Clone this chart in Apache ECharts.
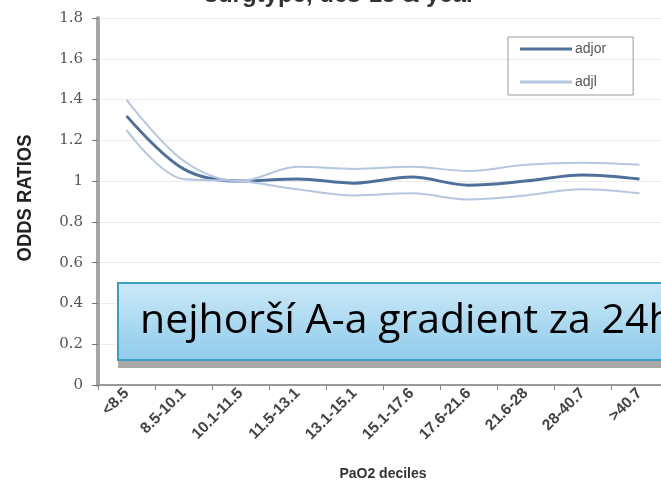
<!DOCTYPE html>
<html><head><meta charset="utf-8">
<script src="https://cdn.jsdelivr.net/npm/echarts@6/dist/echarts.min.js"></script>
<style>html,body{margin:0;padding:0;background:#fff;overflow:hidden}#c{width:672px;height:486px}</style>
</head><body><div id="c"></div>
<script>
const categories = ["<8.5","8.5-10.1","10.1-11.5","11.5-13.1","13.1-15.1","15.1-17.6","17.6-21.6","21.6-28","28-40.7",">40.7"];
const adjor = [1.32, 1.06, 1.0, 1.01, 0.99, 1.02, 0.98, 1.0, 1.03, 1.01];
const adjl  = [1.25, 1.01, 1.0, 0.96, 0.93, 0.94, 0.91, 0.93, 0.96, 0.94];
const adju  = [1.40, 1.10, 1.0, 1.07, 1.06, 1.07, 1.05, 1.08, 1.09, 1.08];
const yTicks = [0, 0.2, 0.4, 0.6, 0.8, 1, 1.2, 1.4, 1.6, 1.8];

const chart = echarts.init(document.getElementById('c'));
const mainColor = '#50709c';
const ciColor = '#b4c6e0';
chart.setOption({
  animation: false,
  grid: {left: 98, top: 18, bottom: 100, right: 4, containLabel: false},
  legend: {
    orient: 'vertical', left: 508, top: 37,
    data: [
      {name: 'adjor', icon: 'rect', itemStyle: {color: mainColor}},
      {name: 'adjl', icon: 'rect', itemStyle: {color: ciColor}}
    ],
    borderColor: '#9a9a9a', borderWidth: 1, padding: [5, 27, 6, 12],
    itemWidth: 52, itemHeight: 3, itemGap: 19,
    textStyle: {fontSize: 14, color: '#555', fontFamily: 'Liberation Sans', padding: [0, 0, 0, -2]}
  },
  xAxis: {
    type: 'category', data: categories, boundaryGap: true,
    name: 'PaO2 deciles', nameLocation: 'middle', nameGap: 82,
    nameTextStyle: {fontSize: 14, fontWeight: 'bold', color: '#333', fontFamily: 'Liberation Sans'},
    axisLine: {lineStyle: {color: '#9a9a9a', width: 2}},
    axisTick: {show: true, length: 5, alignWithLabel: false, interval: 0, lineStyle: {color: '#888'}},
    axisLabel: {rotate: 45, interval: 0, fontSize: 15.5, fontWeight: 'bold', color: '#444', margin: 6, fontFamily: 'Liberation Sans'},
    splitLine: {show: false}
  },
  yAxis: {
    type: 'value', min: 0, max: 1.8, interval: 0.2,
    axisLine: {show: true, lineStyle: {color: '#a6a6a6', width: 4}},
    axisTick: {show: true, length: 6, lineStyle: {color: '#777'}},
    axisLabel: {fontSize: 15, color: '#555', margin: 15, fontFamily: 'DejaVu Serif',
      formatter: v => { const t = yTicks.find(x => Math.abs(x - v) < 1e-6); return String(t !== undefined ? t : v); }},
    splitLine: {show: true, lineStyle: {color: '#ececec', width: 1}}
  },
  series: [
    {name: 'adjor', type: 'line', data: adjor, smooth: 0.35, symbol: 'none', z: 3,
      lineStyle: {color: mainColor, width: 3}, itemStyle: {color: mainColor}},
    {name: 'adjl', type: 'line', data: adjl, smooth: 0.35, symbol: 'none',
      lineStyle: {color: ciColor, width: 2}, itemStyle: {color: ciColor}},
    {name: 'adju', type: 'line', data: adju, smooth: 0.35, symbol: 'none',
      lineStyle: {color: ciColor, width: 2}, itemStyle: {color: ciColor}}
  ],
  graphic: [
    {type: 'text', x: 340, y: -17, style: {text: 'surgtype, ucs-15 & year', fontSize: 24, fontWeight: 'bold', fill: '#333', fontFamily: 'Liberation Sans', align: 'center'}},
    {type: 'text', x: 25, y: 198, rotation: Math.PI / 2, scaleX: 0.88,
      style: {text: 'ODDS RATIOS', fontSize: 21, fontWeight: 'bold', fill: '#222', fontFamily: 'Liberation Sans', align: 'center', verticalAlign: 'middle'}},
    {type: 'rect', shape: {x: 118, y: 290, width: 570, height: 78}, style: {fill: '#a8a8a8'}, z: 10},
    {type: 'rect', shape: {x: 118, y: 283, width: 570, height: 77},
      style: {fill: new echarts.graphic.LinearGradient(0, 0, 0, 1, [{offset: 0, color: '#cbe9f8'}, {offset: 1, color: '#8ecbea'}]),
        stroke: '#3a9fc2', lineWidth: 2}, z: 11},
    {type: 'text', x: 140, y: 301, z: 12, style: {text: 'nejhorší A-a gradient za 24h', fontSize: 41, fill: '#000', fontFamily: 'Open Sans'}}
  ]
});
</script></body></html>
